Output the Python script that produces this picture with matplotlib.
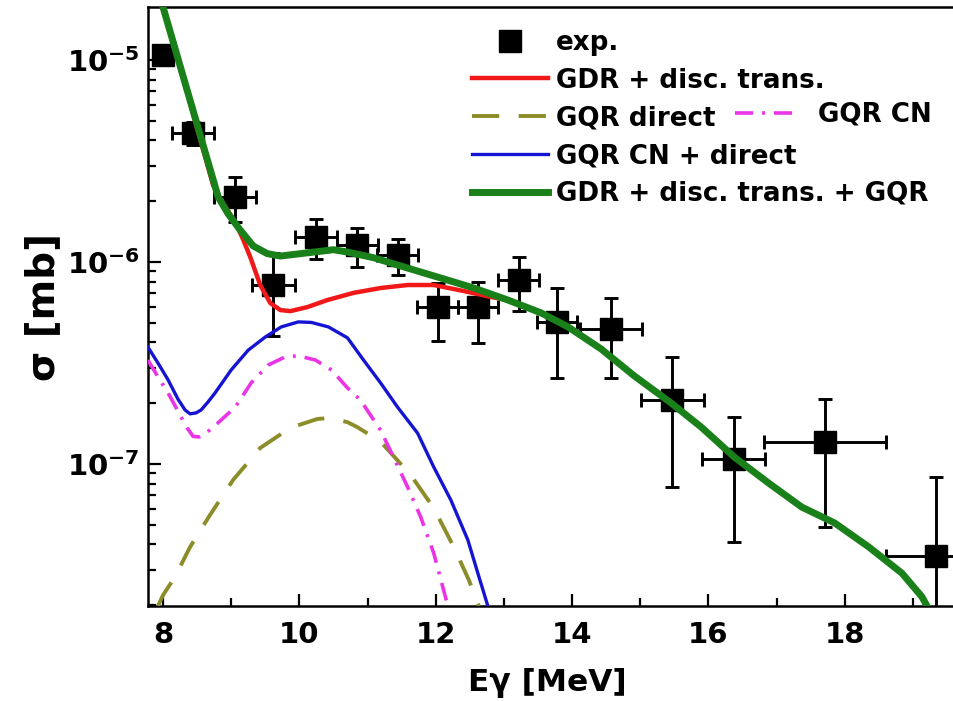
import numpy as np
import matplotlib
matplotlib.use("Agg")
import matplotlib.pyplot as plt
from matplotlib.ticker import FixedLocator, LogLocator, NullFormatter

plt.rcParams['font.family'] = ['DejaVu Sans']
plt.rcParams['font.weight'] = 'bold'
plt.rcParams['mathtext.fontset'] = 'custom'
plt.rcParams['mathtext.rm'] = 'DejaVu Sans:bold'
plt.rcParams['mathtext.it'] = 'DejaVu Sans:bold'
plt.rcParams['mathtext.bf'] = 'DejaVu Sans:bold'

# experimental points
exp_e = [8.0, 8.44, 9.06, 9.62, 10.24, 10.85, 11.44, 12.03, 12.62, 13.22,
         13.78, 14.57, 15.47, 16.37, 17.71, 19.34]
exp_sigma = [1.06e-5, 4.35e-6, 2.10e-6, 7.69e-7, 1.33e-6, 1.21e-6, 1.08e-6, 5.98e-7, 5.98e-7, 8.14e-7,
             5.05e-7, 4.66e-7, 2.07e-7, 1.06e-7, 1.29e-7, 3.51e-8]
exp_de = [0.0, 0.31, 0.31, 0.31, 0.31, 0.30, 0.30, 0.30, 0.30, 0.30,
          0.30, 0.46, 0.46, 0.46, 0.90, 0.74]
exp_dsig = [0.0, 0.57e-6, 0.52e-6, 0.34e-6, 0.30e-6, 0.27e-6, 0.22e-6, 0.19e-6, 0.20e-6, 0.24e-6,
            0.24e-6, 0.20e-6, 0.13e-6, 0.065e-6, 0.08e-6, 0.51e-7]

# GDR + discrete transitions + GQR (total)
green_e = [8.0, 8.809, 8.956, 9.132, 9.324, 9.529, 9.721, 10.118, 10.5, 10.706, 11.088,
           11.588, 12.074, 12.559, 13.059, 13.544, 13.941, 14.426, 14.912, 15.456, 15.897,
           16.382, 16.882, 17.368, 17.853, 18.353, 18.838, 19.132, 19.206]
green_s = [1.83e-5, 2.10e-6, 1.73e-6, 1.44e-6, 1.20e-6, 1.10e-6, 1.07e-6, 1.11e-6, 1.15e-6,
           1.12e-6, 1.05e-6, 9.33e-7, 8.33e-7, 7.43e-7, 6.48e-7, 5.60e-7, 4.77e-7, 3.71e-7, 2.73e-7,
           2.00e-7, 1.52e-7, 1.08e-7, 8.05e-8, 6.12e-8, 5.10e-8, 3.88e-8, 2.88e-8, 2.20e-8, 1.98e-8]

# GDR + discrete transitions
red_e = [8.0, 8.735, 8.882, 9.059, 9.176, 9.279, 9.426, 9.574, 9.721, 9.868, 10.118,
         10.412, 10.794, 11.191, 11.588, 11.971, 12.412, 12.809, 13.059, 13.544]
red_s = [1.83e-5, 2.40e-6, 1.95e-6, 1.58e-6, 1.29e-6, 1.06e-6, 7.69e-7, 6.26e-7, 5.78e-7,
         5.71e-7, 5.98e-7, 6.48e-7, 7.03e-7, 7.43e-7, 7.69e-7, 7.69e-7, 7.18e-7, 6.71e-7, 6.48e-7, 5.60e-7]

# GQR CN + direct
blue_e = [7.779, 7.926, 8.074, 8.221, 8.324, 8.397, 8.485, 8.559, 8.662, 8.765, 9.0, 9.25, 9.5,
          9.735, 9.985, 10.176, 10.426, 10.706, 10.941, 11.191, 11.441, 11.735, 11.971, 12.221,
          12.471, 12.618, 12.765]
blue_s = [3.79e-7, 3.16e-7, 2.61e-7, 2.09e-7, 1.85e-7, 1.77e-7, 1.79e-7, 1.85e-7, 2.03e-7, 2.25e-7,
          2.92e-7, 3.66e-7, 4.25e-7, 4.77e-7, 5.05e-7, 5.02e-7, 4.77e-7, 4.21e-7, 3.27e-7, 2.52e-7,
          1.91e-7, 1.42e-7, 9.66e-8, 6.64e-8, 4.21e-8, 2.88e-8, 1.98e-8]

# GQR CN
mag_e = [7.779, 7.926, 8.074, 8.265, 8.353, 8.441, 8.529, 8.632, 8.809, 9.059, 9.294, 9.544,
         9.794, 9.985, 10.235, 10.471, 10.706, 10.897, 11.191, 11.382, 11.588, 11.779, 11.971,
         12.147, 12.176]
mag_s = [3.27e-7, 2.70e-7, 2.25e-7, 1.71e-7, 1.51e-7, 1.37e-7, 1.36e-7, 1.42e-7, 1.60e-7, 1.91e-7,
         2.52e-7, 3.09e-7, 3.39e-7, 3.43e-7, 3.27e-7, 2.92e-7, 2.38e-7, 2.07e-7, 1.47e-7, 1.08e-7,
         7.69e-8, 5.47e-8, 3.62e-8, 2.17e-8, 1.98e-8]

# GQR direct
olive_e = [7.926, 8.0, 8.176, 8.397, 8.691, 9.029, 9.426, 9.868, 10.265, 10.456, 10.706, 10.853,
           11.191, 11.632, 11.971, 12.265, 12.485, 12.632]
olive_s = [1.98e-8, 2.24e-8, 2.76e-8, 3.88e-8, 5.60e-8, 8.34e-8, 1.20e-7, 1.51e-7, 1.67e-7, 1.69e-7,
           1.61e-7, 1.52e-7, 1.29e-7, 8.83e-8, 6.05e-8, 3.88e-8, 2.67e-8, 1.98e-8]

x_ticks = [8, 10, 12, 14, 16, 18]
x_minor = [9, 11, 13, 15, 17, 19]
y_ticks = [1e-7, 1e-6, 1e-5]
y_labels = [r'$\mathrm{10^{-7}}$', r'$\mathrm{10^{-6}}$', r'$\mathrm{10^{-5}}$']

fig = plt.figure(figsize=(9.54, 7.01), dpi=100)
ax = fig.add_axes([148/954, 95/701, 814/954, 599/701])
ax.set_yscale('log')

ax.errorbar(exp_e, exp_sigma, xerr=exp_de, yerr=exp_dsig, fmt='none', ecolor='black',
            elinewidth=2.1, capsize=5, capthick=2.1, zorder=2)
pts, = ax.plot(exp_e, exp_sigma, 's', color='black', ms=15.5, zorder=3, label='exp.')

l_olive, = ax.plot(olive_e, olive_s, color='#8c8c28', lw=2.8, ls=(0, (7, 5)), zorder=4)
l_mag, = ax.plot(mag_e, mag_s, color='#ea34e6', lw=2.6, ls=(0, (5, 2.5, 0.8, 2.5)), zorder=4)
l_blue, = ax.plot(blue_e, blue_s, color='#1414d2', lw=2.4, zorder=5)
l_red, = ax.plot(red_e, red_s, color='#f01818', lw=3.2, zorder=6)
l_green, = ax.plot(green_e, green_s, color='#1a801a', lw=5, zorder=7)

ax.set_xlim(7.78, 19.72)
ax.set_ylim(1.98e-8, 1.83e-5)

ax.xaxis.set_major_locator(FixedLocator(x_ticks))
ax.xaxis.set_minor_locator(FixedLocator(x_minor))
ax.set_xticklabels([str(t) for t in x_ticks])
ax.yaxis.set_major_locator(FixedLocator(y_ticks))
ax.set_yticklabels(y_labels)
ax.yaxis.set_minor_locator(LogLocator(base=10, subs=np.arange(2, 10)))
ax.yaxis.set_minor_formatter(NullFormatter())

ax.tick_params(which='both', direction='in', width=1.6, top=False, right=False)
ax.tick_params(which='major', length=9)
ax.tick_params(which='minor', length=5.5)
ax.tick_params(axis='x', which='major', labelsize=21, pad=11)
ax.tick_params(axis='y', which='major', labelsize=21, pad=6)
for s in ax.spines.values():
    s.set_linewidth(1.8)

ax.set_xlabel('Eγ [MeV]', fontsize=22.5, fontweight='bold')
ax.xaxis.set_label_coords(0.49, -0.104)
ax.set_ylabel('σ [mb]', fontsize=28, fontweight='bold')
ax.yaxis.set_label_coords(-0.105, 0.5)

leg1 = ax.legend([pts, l_red, l_olive, l_blue, l_green],
                 ['exp.', 'GDR + disc. trans.', 'GQR direct', 'GQR CN + direct',
                  'GDR + disc. trans. + GQR'],
                 loc='upper left', bbox_to_anchor=(0.398, 0.962), frameon=False,
                 borderpad=0, borderaxespad=0, handlelength=2.9, handletextpad=0.31,
                 labelspacing=0.45, prop={'size': 18.8, 'weight': 'bold'})
ax.add_artist(leg1)
ax.legend([l_mag], ['GQR CN'], loc='center left', bbox_to_anchor=(0.721, 0.8197),
          frameon=False, borderpad=0, borderaxespad=0, handlelength=2.5,
          handletextpad=0.69, prop={'size': 18.8, 'weight': 'bold'})

fig.savefig('out.png', dpi=100)
